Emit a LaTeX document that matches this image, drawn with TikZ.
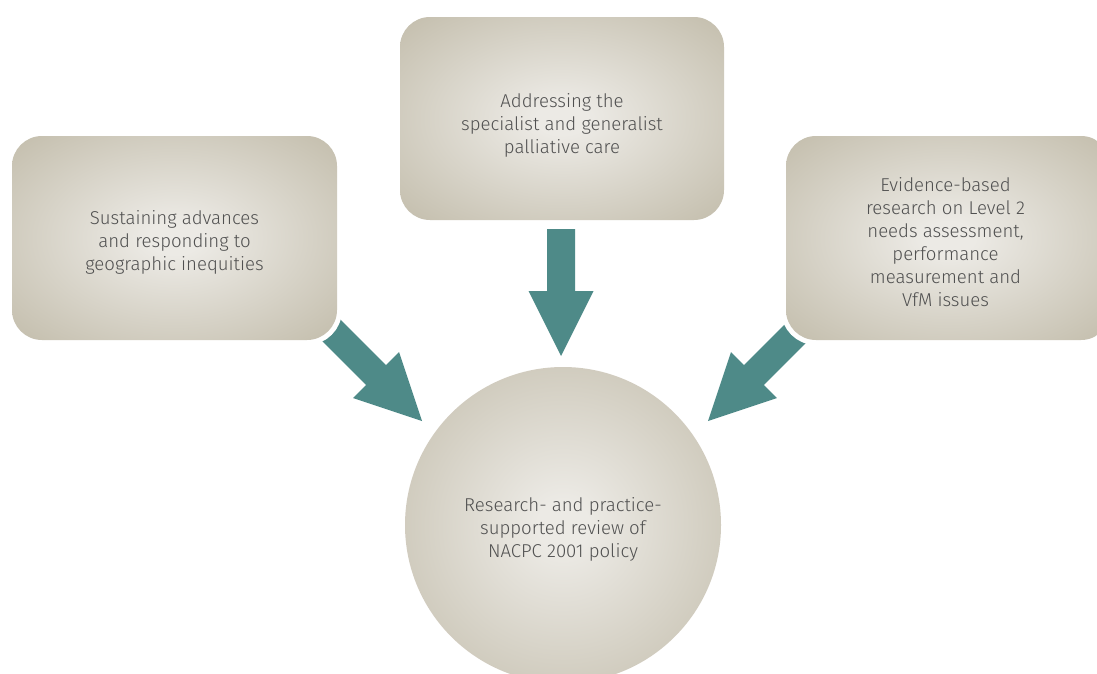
\documentclass[tikz,border=0pt]{standalone}
\usepackage{fontspec}
\setmainfont{Fira Sans}[UprightFont=* Light]
\usetikzlibrary{calc}
\definecolor{boxin}{HTML}{ECEAE5}
\definecolor{boxout}{HTML}{C1BBA9}
\definecolor{arrowteal}{HTML}{4E8A88}
\definecolor{txtgrey}{HTML}{505050}
\pgfdeclareradialshading{boxshade}{\pgfpoint{0bp}{0bp}}{color(0bp)=(boxin); color(4bp)=(boxin); color(37bp)=(boxout); color(50bp)=(boxout)}
\newcommand\blockarr[2]{%
  \coordinate (#2neck) at ($(#2)!65pt!(#1)$);
  \fill[arrowteal] ($(#1)!14pt!90:(#2)$) -- ($(#2neck)!14pt!90:(#2)$) -- ($(#2neck)!32.5pt!90:(#2)$) -- (#2)
    -- ($(#2neck)!32.5pt!-90:(#2)$) -- ($(#2neck)!14pt!-90:(#2)$) -- ($(#1)!14pt!-90:(#2)$) -- cycle;
}
\begin{document}
\begin{tikzpicture}[x=1pt,y=-1pt,
  txt/.style={text=txtgrey, font=\fontsize{18.6}{23}\selectfont, align=center, inner sep=0pt},
  box/.style={shading=boxshade, rounded corners=30pt, inner sep=0pt,
    preaction={draw=white, line width=10pt}},
  hub/.style={circle, shading=boxshade, inner sep=0pt, minimum size=316pt}]
\useasboundingbox (0,0) rectangle (1097,673);
\fill[white] (0,0) rectangle (1097,673);
\clip (0,0) rectangle (1097,673);
% arrows
\coordinate (ltail) at (320,319);
\coordinate (ltip) at (422,421);
\coordinate (dtail) at (561,229);
\coordinate (dtip) at (561,356);
\coordinate (rtail) at (806,323);
\coordinate (rtip) at (708,421);
\blockarr{ltail}{ltip}
\blockarr{dtail}{dtip}
\blockarr{rtail}{rtip}
% boxes
\node[box, minimum width=325pt, minimum height=204pt] (left) at (174.5,238) {};
\node[txt] (lefttext) at ($(left.center)+(0,4)$)
  {Sustaining advances\\and responding to\\geographic inequities};
\node[box, minimum width=324pt, minimum height=203pt] (top) at (562,118.5) {};
\node[txt] (toptext) at ($(top.center)+(0,7)$)
  {Addressing the\\specialist and generalist\\palliative care};
\node[box, minimum width=325pt, minimum height=204pt] (right) at (948.5,238) {};
\node[txt] (righttext) at ($(right.center)+(-3,4)$)
  {Evidence-based\\research on Level 2\\needs assessment,\\performance\\measurement and\\VfM issues};
\node[hub] (hub) at (563,525) {};
\node[txt] (hubtext) at ($(hub.center)+(0,4)$)
  {Research- and practice-\\supported review of\\NACPC 2001 policy};
\end{tikzpicture}
\end{document}
